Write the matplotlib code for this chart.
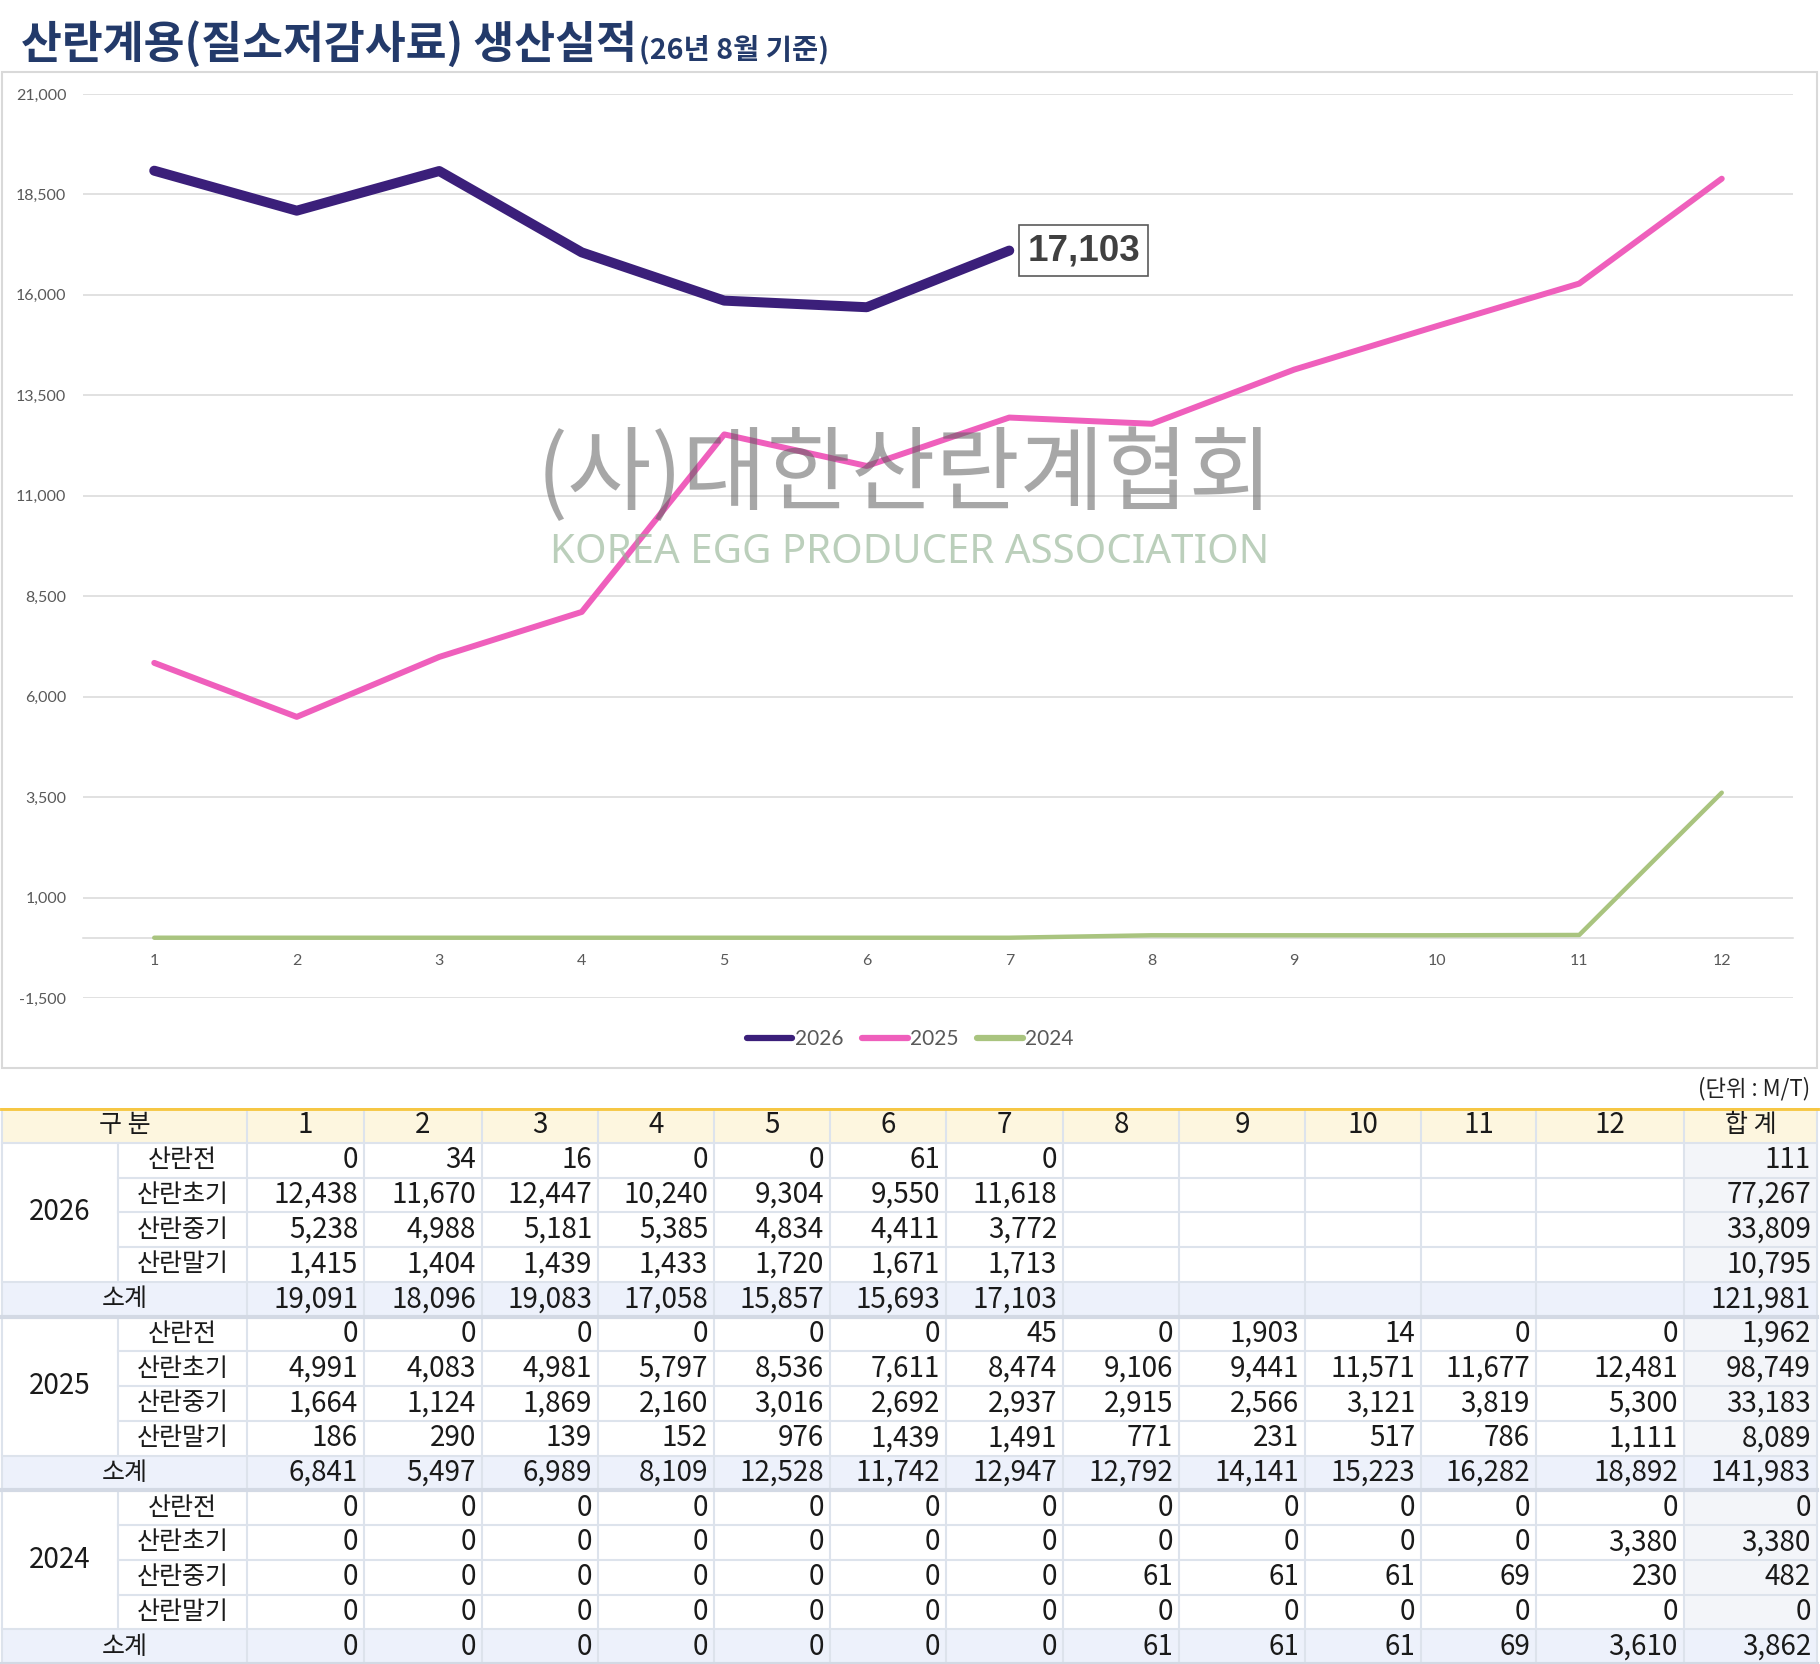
import matplotlib
matplotlib.use("Agg")
import matplotlib.pyplot as plt
from matplotlib.patches import Rectangle
from matplotlib.ticker import FuncFormatter

plt.rcParams['font.family'] = ['Noto Sans CJK KR', 'DejaVu Sans']

# ---- data ----
months = list(range(1, 13))
month_labels = [str(m) for m in months]
years = ['2026', '2025', '2024']
stages = ['산란전', '산란초기', '산란중기', '산란말기']

pre_2026 = [0, 34, 16, 0, 0, 61, 0]
early_2026 = [12438, 11670, 12447, 10240, 9304, 9550, 11618]
mid_2026 = [5238, 4988, 5181, 5385, 4834, 4411, 3772]
late_2026 = [1415, 1404, 1439, 1433, 1720, 1671, 1713]
total_2026 = [19091, 18096, 19083, 17058, 15857, 15693, 17103]
sum_2026 = [111, 77267, 33809, 10795, 121981]

pre_2025 = [0, 0, 0, 0, 0, 0, 45, 0, 1903, 14, 0, 0]
early_2025 = [4991, 4083, 4981, 5797, 8536, 7611, 8474, 9106, 9441, 11571, 11677, 12481]
mid_2025 = [1664, 1124, 1869, 2160, 3016, 2692, 2937, 2915, 2566, 3121, 3819, 5300]
late_2025 = [186, 290, 139, 152, 976, 1439, 1491, 771, 231, 517, 786, 1111]
total_2025 = [6841, 5497, 6989, 8109, 12528, 11742, 12947, 12792, 14141, 15223, 16282, 18892]
sum_2025 = [1962, 98749, 33183, 8089, 141983]

pre_2024 = [0, 0, 0, 0, 0, 0, 0, 0, 0, 0, 0, 0]
early_2024 = [0, 0, 0, 0, 0, 0, 0, 0, 0, 0, 0, 3380]
mid_2024 = [0, 0, 0, 0, 0, 0, 0, 61, 61, 61, 69, 230]
late_2024 = [0, 0, 0, 0, 0, 0, 0, 0, 0, 0, 0, 0]
total_2024 = [0, 0, 0, 0, 0, 0, 0, 61, 61, 61, 69, 3610]
sum_2024 = [0, 3380, 482, 0, 3862]

blocks = [
    (years[0], [pre_2026, early_2026, mid_2026, late_2026], total_2026, sum_2026),
    (years[1], [pre_2025, early_2025, mid_2025, late_2025], total_2025, sum_2025),
    (years[2], [pre_2024, early_2024, mid_2024, late_2024], total_2024, sum_2024),
]

W, H = 1820, 1664
fig = plt.figure(figsize=(W / 100, H / 100), dpi=100)
fig.patch.set_facecolor('white')


def fx(px):
    return px / W


def fy(py):
    return 1 - py / H


# ---- title ----
title = fig.text(fx(21), fy(58), '산란계용(질소저감사료) 생산실적', fontsize=32,
                 fontweight='heavy', color='#233a6a', va='baseline', ha='left')
fig.canvas.draw()
bb = title.get_window_extent()
fig.text(bb.x1 / W + 0.001, fy(58), '(26년 8월 기준)', fontsize=20.5, fontweight='heavy',
         color='#233a6a', va='baseline', ha='left')

# chart panel frame
fig.add_artist(Rectangle((fx(2), fy(1068)), fx(1817) - fx(2), fy(72) - fy(1068),
                         transform=fig.transFigure, fill=False, ec='#d9d9d9', lw=1.5))

# ---- line chart ----
ax = fig.add_axes([fx(83), fy(998), fx(1793) - fx(83), fy(94) - fy(998)])
ax.set_facecolor('none')
ax.set_xlim(0.5, 12.5)
ax.set_ylim(-1500, 21000)
ax.set_yticks(range(-1500, 21001, 2500))
ax.set_xticks(months)
ax.set_xticklabels(month_labels)
ax.yaxis.set_major_formatter(FuncFormatter(lambda v, p: f'{v:,.0f}'))
ax.grid(axis='y', color='#d9d9d9', lw=1.1)
ax.set_axisbelow(True)
for s in ['left', 'right', 'top']:
    ax.spines[s].set_visible(False)
ax.spines['bottom'].set_position(('data', 0))
ax.spines['bottom'].set_color('#d9d9d9')
ax.spines['bottom'].set_linewidth(1.1)
ax.tick_params(axis='both', length=0, labelsize=11.5, labelcolor='#595959')
ax.tick_params(axis='y', pad=12)
ax.tick_params(axis='x', pad=12)
for lab in ax.get_xticklabels() + ax.get_yticklabels():
    lab.set_fontfamily(['Lato', 'DejaVu Sans'])

l26, = ax.plot(months[:len(total_2026)], total_2026, color='#3b1f7a', lw=7.2,
               solid_capstyle='round', solid_joinstyle='round', label='2026', zorder=4)
l25, = ax.plot(months, total_2025, color='#ef5fbc', lw=4.3,
               solid_capstyle='round', label='2025', zorder=3)
l24, = ax.plot(months, total_2024, color='#a9c47f', lw=3.2,
               solid_capstyle='round', label='2024', zorder=3)

ax.annotate(f'{total_2026[-1]:,}', xy=(len(total_2026), total_2026[-1]),
            xytext=(18, 0), textcoords='offset pixels', ha='left', va='center',
            fontsize=26.5, fontweight='bold', color='#404040',
            family=['Liberation Sans', 'DejaVu Sans'],
            bbox=dict(boxstyle='square,pad=0.22', fc='white', ec='#5a5a5a', lw=1.2),
            zorder=6)

# watermark
fig.text(fx(905), fy(477), '(사)대한산란계협회', fontsize=66, color='#606060', alpha=0.55,
         ha='center', va='center', zorder=10)
fig.text(fx(910), fy(553), 'KOREA EGG PRODUCER ASSOCIATION', fontsize=29,
         color='#8fb08f', alpha=0.6, ha='center', va='center', fontweight='light',
         family=['Noto Sans', 'DejaVu Sans'], zorder=10)

leg = fig.legend(handles=[l26, l25, l24], loc='center', bbox_to_anchor=(0.5, fy(1039)),
                 ncol=3, frameon=False, handlelength=2.2,
                 handletextpad=0.1, columnspacing=0.9,
                 prop={'family': ['Lato', 'DejaVu Sans'], 'size': 15})
for t in leg.get_texts():
    t.set_color('#595959')
for h in leg.get_lines():
    h.set_linewidth(4.5)

# unit note
fig.text(fx(1810), fy(1089), '(단위 : M/T)', fontsize=16, color='#222222',
         ha='right', va='center')

# ---- table ----
col_edges = [2, 118, 247, 364, 482, 598, 714, 830, 946, 1063, 1179, 1305, 1421, 1536, 1684, 1817]
n_rows = 16
tax = fig.add_axes([0, 0, 1, fy(1108)])
tax.set_xlim(0, W)
tax.set_ylim(n_rows, 0)
tax.axis('off')

grid_c = '#dde3ec'
txt_c = '#1a1a1a'
fs = 20
fs_kr = 18
pad = 6

# backgrounds
tax.add_patch(Rectangle((col_edges[0], 0), col_edges[-1] - col_edges[0], 1, fc='#fdf6df', ec='none'))
for b in range(3):
    r0 = 1 + 5 * b
    tax.add_patch(Rectangle((col_edges[0], r0 + 4), col_edges[-1] - col_edges[0], 1,
                            fc='#edf1fb', ec='none'))
    tax.add_patch(Rectangle((col_edges[-2], r0), col_edges[-1] - col_edges[-2], 4,
                            fc='#f3f5f9', ec='none'))

# vertical lines
for i, x in enumerate(col_edges):
    if i == 1:
        for b in range(3):
            r0 = 1 + 5 * b
            tax.plot([x, x], [r0, r0 + 4], color=grid_c, lw=1.5)
    else:
        tax.plot([x, x], [0, n_rows], color=grid_c, lw=1.5)

# horizontal lines
tax.plot([col_edges[0], col_edges[-1]], [1, 1], color=grid_c, lw=1.5)
for b in range(3):
    r0 = 1 + 5 * b
    for k in range(1, 4):
        tax.plot([col_edges[1], col_edges[-1]], [r0 + k, r0 + k], color=grid_c, lw=1.5)
    tax.plot([col_edges[0], col_edges[-1]], [r0 + 4, r0 + 4], color=grid_c, lw=1.5)
    tax.plot([col_edges[0], col_edges[-1]], [r0 + 5, r0 + 5], color='#d3d9e4', lw=3)
tax.plot([col_edges[0], col_edges[-1]], [0, 0], color='#f6c744', lw=3.5)

# header
tax.text((col_edges[0] + col_edges[2]) / 2, 0.5, '구 분', ha='center', va='center', fontsize=fs_kr, color=txt_c)
for j, m in enumerate(month_labels):
    tax.text((col_edges[2 + j] + col_edges[3 + j]) / 2, 0.5, m, ha='center', va='center',
             fontsize=fs, color=txt_c)
tax.text((col_edges[-2] + col_edges[-1]) / 2, 0.5, '합 계', ha='center', va='center', fontsize=fs_kr, color=txt_c)

# body
for b, (yr, stage_vals, tot, sums) in enumerate(blocks):
    r0 = 1 + 5 * b
    tax.text((col_edges[0] + col_edges[1]) / 2, r0 + 2, yr, ha='center', va='center',
             fontsize=fs, color=txt_c)
    for k, name in enumerate(stages):
        r = r0 + k + 0.5
        tax.text((col_edges[1] + col_edges[2]) / 2, r, name, ha='center', va='center',
                 fontsize=fs_kr, color=txt_c)
        for j, v in enumerate(stage_vals[k]):
            tax.text(col_edges[3 + j] - pad, r, f'{v:,}', ha='right', va='center',
                     fontsize=fs, color=txt_c)
        tax.text(col_edges[-1] - pad, r, f'{sums[k]:,}', ha='right', va='center',
                 fontsize=fs, color=txt_c)
    r = r0 + 4.5
    tax.text((col_edges[0] + col_edges[2]) / 2, r, '소계', ha='center', va='center',
             fontsize=fs_kr, color=txt_c)
    for j, v in enumerate(tot):
        tax.text(col_edges[3 + j] - pad, r, f'{v:,}', ha='right', va='center',
                 fontsize=fs, color=txt_c)
    tax.text(col_edges[-1] - pad, r, f'{sums[4]:,}', ha='right', va='center',
             fontsize=fs, color=txt_c)

fig.savefig('out.png', dpi=100, facecolor='white')
